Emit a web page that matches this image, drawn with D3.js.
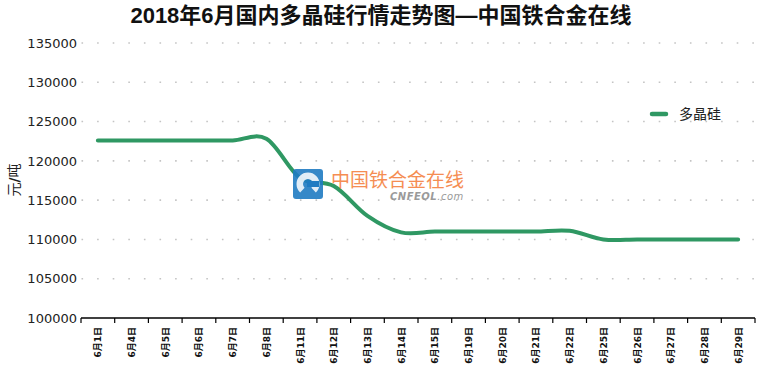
<!DOCTYPE html>
<html>

<head>
    <meta charset="utf-8" />
    <title>2018年6月国内多晶硅行情走势图</title>
    <style>
        body {
            margin: 0;
            overflow: hidden;
            background: #fff;
        }
        #chart {
            width: 760px;
            height: 370px;
        }
    </style>
</head>

<body>
    <div id="chart"></div>
    <script src="https://d3js.org/d3.v7.min.js"></script>
    <script>
        // chart data
        var dates = ["6月1日", "6月4日", "6月5日", "6月6日", "6月7日", "6月8日", "6月11日", "6月12日", "6月13日", "6月14日",
            "6月15日", "6月19日", "6月20日", "6月21日", "6月22日", "6月25日", "6月26日", "6月27日", "6月28日", "6月29日"];
        var prices = [122600, 122600, 122600, 122600, 122600, 122800, 117800, 116800, 113000, 110900,
            111000, 111000, 111000, 111000, 111100, 110000, 110000, 110000, 110000, 110000];
        var yTicks = [100000, 105000, 110000, 115000, 120000, 125000, 130000, 135000];
        var seriesName = "多晶硅";
        var title = "2018年6月国内多晶硅行情走势图—中国铁合金在线";

        var width = 760, height = 370;
        var margin = { top: 43, left: 81, right: 5, bottom: 52 };
        var lineColor = "#2f9863";

        var svg = d3.select("#chart")
            .append("svg")
            .attr("width", width)
            .attr("height", height);

        var x = d3.scaleBand()
            .domain(dates)
            .range([margin.left, width - margin.right]);
        var y = d3.scaleLinear()
            .domain([100000, 135000])
            .range([height - margin.bottom, margin.top]);

        // title
        svg.append("text")
            .attr("x", 381)
            .attr("y", 23)
            .attr("text-anchor", "middle")
            .style("font-family", "'Liberation Sans', 'Noto Sans CJK SC', sans-serif")
            .style("font-weight", "bold")
            .style("font-size", "22px")
            .style("fill", "#111")
            .text(title);

        // dotted grid lines
        svg.append("g")
            .selectAll("line")
            .data(yTicks.slice(1))
            .join("line")
            .attr("x1", x.range()[0] + 0.5)
            .attr("x2", x.range()[1])
            .attr("y1", d => y(d))
            .attr("y2", d => y(d))
            .style("stroke", "#c4c4c4")
            .style("stroke-width", 1.6)
            .style("stroke-dasharray", "1.6,14");

        // y labels (no axis line)
        svg.append("g")
            .selectAll("text")
            .data(yTicks)
            .join("text")
            .attr("x", 77)
            .attr("y", d => y(d))
            .attr("dy", "0.36em")
            .attr("text-anchor", "end")
            .style("font-family", "'DejaVu Sans', sans-serif")
            .style("font-size", "13px")
            .style("fill", "#222")
            .text(d => d);

        // y title, slash drawn heavier like the original
        var yt = svg.append("text")
            .attr("transform", "translate(19,180) rotate(-90)")
            .attr("text-anchor", "middle")
            .style("font-family", "'Noto Sans CJK SC', sans-serif")
            .style("font-size", "14px")
            .style("fill", "#222");
        yt.append("tspan").text("元");
        yt.append("tspan").style("font-weight", "900").style("font-family", "'DejaVu Sans', sans-serif").text("/");
        yt.append("tspan").text("吨");

        // x axis
        var xAxis = svg.append("g")
            .attr("transform", `translate(0,${y(100000)})`);
        xAxis.append("line")
            .attr("x1", x.range()[0])
            .attr("x2", x.range()[1])
            .style("stroke", "#000")
            .style("stroke-width", 1.5);
        xAxis.selectAll("line.tick")
            .data(d3.range(dates.length + 1))
            .join("line")
            .attr("class", "tick")
            .attr("x1", i => x.range()[0] + i * x.step())
            .attr("x2", i => x.range()[0] + i * x.step())
            .attr("y1", 0)
            .attr("y2", 5)
            .style("stroke", "#000")
            .style("stroke-width", 1.2);
        xAxis.selectAll("text")
            .data(dates)
            .join("text")
            .attr("transform", d => `translate(${x(d) + x.bandwidth() / 2 + 3.5},9) rotate(-90)`)
            .attr("text-anchor", "end")
            .style("font-family", "'DejaVu Sans', 'Noto Sans CJK SC', sans-serif")
            .style("font-weight", "bold")
            .style("font-size", "9px")
            .style("fill", "#111")
            .text(d => d);

        // price line
        var line = d3.line()
            .x((d, i) => x(dates[i]) + x.bandwidth() / 2)
            .y(d => y(d))
            .curve(d3.curveCatmullRom.alpha(0));
        svg.append("path")
            .datum(prices)
            .attr("d", line)
            .style("fill", "none")
            .style("stroke", lineColor)
            .style("stroke-width", 4)
            .style("stroke-linecap", "round")
            .style("stroke-linejoin", "round");

        // legend
        var legend = svg.append("g").attr("transform", "translate(650,114)");
        legend.append("line")
            .attr("x1", 2).attr("x2", 16)
            .style("stroke", lineColor)
            .style("stroke-width", 4.5)
            .style("stroke-linecap", "round");
        legend.append("text")
            .attr("x", 29)
            .attr("dy", "0.36em")
            .style("font-family", "'Noto Sans CJK SC', sans-serif")
            .style("font-size", "14px")
            .style("fill", "#222")
            .text(seriesName);

        // watermark
        var mark = svg.append("g").attr("transform", "translate(293,169)");
        mark.append("rect")
            .attr("width", 30).attr("height", 30).attr("rx", 3)
            .style("fill", "#1f7bc2")
            .style("opacity", 0.9);
        mark.append("path")
            .attr("d", d3.arc()({ innerRadius: 5, outerRadius: 11.5, startAngle: 0.75, endAngle: Math.PI * 2 - 0.75 }))
            .attr("transform", "translate(15,15) rotate(180)")
            .style("fill", "#fff")
            .style("opacity", 0.85);
        mark.append("rect")
            .attr("x", 14).attr("y", 12).attr("width", 12).attr("height", 6)
            .style("fill", "#1f7bc2");
        mark.append("text")
            .attr("x", 38).attr("y", 18)
            .style("font-family", "'Noto Sans CJK SC', sans-serif")
            .style("font-size", "19px")
            .style("fill", "#f47a35")
            .style("opacity", 0.85)
            .text("中国铁合金在线");
        mark.append("text")
            .attr("x", 97).attr("y", 31)
            .style("font-family", "'DejaVu Sans', sans-serif")
            .style("font-style", "italic")
            .style("font-size", "10px")
            .style("letter-spacing", "0.5px")
            .style("fill", "#9a9a9a")
            .html("<tspan style='font-weight:bold'>CNFEOL</tspan>.com");
    </script>
</body>

</html>
